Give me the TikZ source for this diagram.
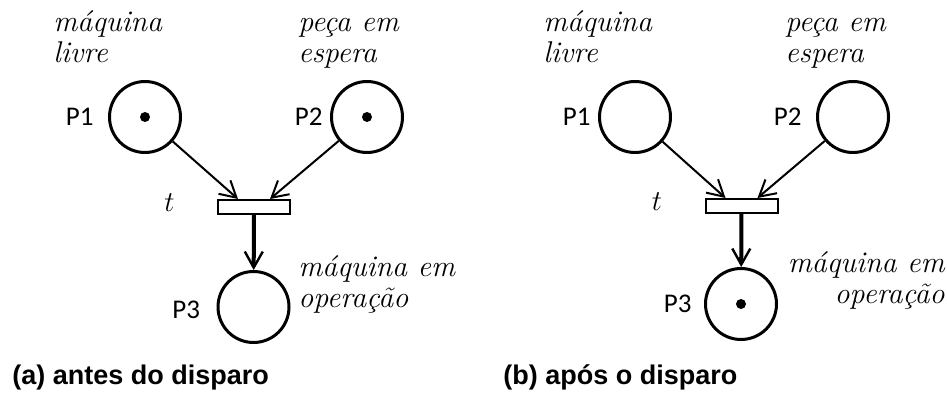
\documentclass[tikz,border=0pt]{standalone}
\usepackage{fontspec}
\usepackage{tikz}
\usetikzlibrary{arrows.meta,positioning}
\newfontfamily\rotulo{Carlito}
\newfontfamily\legenda{Liberation Sans}
\tikzset{
  lugar/.style={draw,circle,line width=1.5pt,minimum size=35.5pt,inner sep=0pt},
  marca/.style={fill,circle,inner sep=0pt,minimum size=5pt},
  trans/.style={draw,rectangle,line width=1pt,minimum width=36pt,minimum height=7pt,inner sep=0pt},
  arco/.style={line width=1pt,-{Straight Barb[length=8pt,width=9pt,line width=1pt]}},
  arcogrosso/.style={line width=2pt,-{Straight Barb[length=8pt,width=9pt,line width=1.2pt]}},
  nome/.style={font=\rotulo\fontsize{13.5}{15}\selectfont,inner sep=0pt},
  texto/.style={font=\itshape\fontsize{15}{15.75}\selectfont,inner sep=0pt},
  legendas/.style={font=\legenda\bfseries\fontsize{13.5}{16}\selectfont,inner sep=0pt}
}

\begin{document}
\begin{tikzpicture}[x=0.5pt,y=-0.5pt]
\useasboundingbox (0,0) rectangle (947,394);
% (a) antes do disparo
\node[lugar] (p1a) at (145,117) {};
\node[marca] (m1a) at (p1a) {};
\node[lugar] (p2a) at (367,117) {};
\node[marca] (m2a) at (p2a) {};
\node[trans] (ta) at (254,207) {};
\node[lugar] (p3a) at (253.5,307) {};
\node[nome,left=7pt of p1a] (n1a) {P1};
\node[nome,left=3.5pt of p2a] (n2a) {P2};
\node[nome,left=8pt of p3a,yshift=-1.5pt] (n3a) {P3};
\node[texto,left=21pt of ta,yshift=2pt] (lta) {$t$};
\node[texto,align=left,anchor=base west] (d1a) at (53,63) {máquina\\livre};
\node[texto,align=left,anchor=base west] (d2a) at (298,63) {peça em\\espera};
\node[texto,align=left,anchor=base west] (d3a) at (298,308) {máquina em\\operação};
\draw[arco] (p1a) -- ([xshift=-8pt]ta.north);
\draw[arco] (p2a) -- ([xshift=8pt]ta.north);
\draw[arcogrosso] (ta) -- (p3a);
\node[legendas,anchor=base west] (capa) at (12,385) {(a) antes do disparo};

% (b) após o disparo
\node[lugar] (p1b) at (635,117) {};
\node[lugar] (p2b) at (853,117) {};
\node[trans] (tb) at (741.5,206) {};
\node[lugar] (p3b) at (741,304) {};
\node[marca] (m3b) at (p3b) {};
\node[nome,left=3.5pt of p1b] (n1b) {P1};
\node[nome,left=7pt of p2b] (n2b) {P2};
\node[nome,left=6pt of p3b] (n3b) {P3};
\node[texto,left=21pt of tb,yshift=2pt] (ltb) {$t$};
\node[texto,align=left,anchor=base west] (d1b) at (543,63) {máquina\\livre};
\node[texto,align=left,anchor=base west] (d2b) at (785,63) {peça em\\espera};
\node[texto,align=right,anchor=base east] (d3b) at (945,304) {máquina em\\operação};
\draw[arco] (p1b) -- ([xshift=-8pt]tb.north);
\draw[arco] (p2b) -- ([xshift=8pt]tb.north);
\draw[arcogrosso] (tb) -- (p3b);
\node[legendas,anchor=base west] (capb) at (503,385) {(b) após o disparo};
\end{tikzpicture}
\end{document}
